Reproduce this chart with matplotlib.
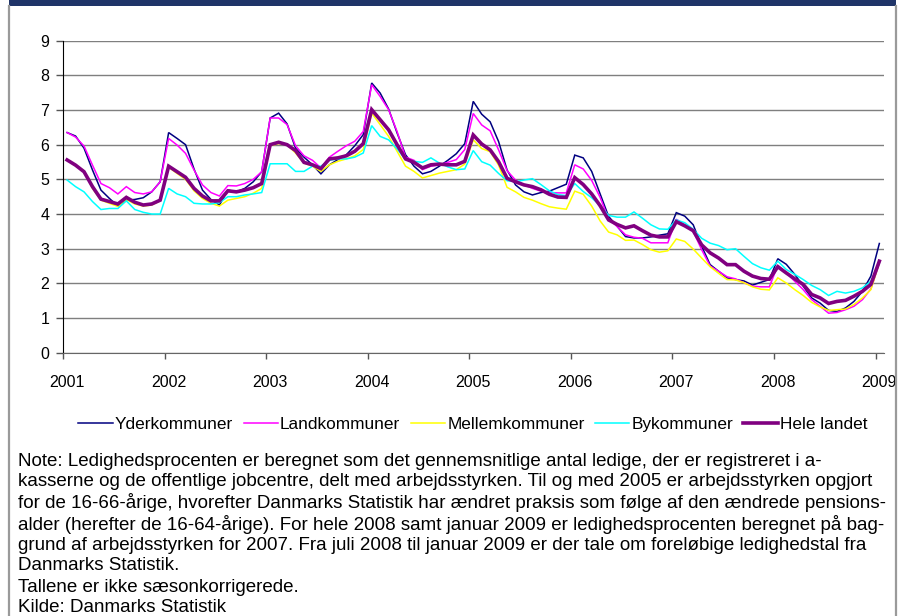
import numpy as np
import matplotlib
matplotlib.use("Agg")
import matplotlib.pyplot as plt

plt.rcParams['font.family'] = ['Liberation Sans', 'DejaVu Sans']

# monthly unemployment rate (%), jan 2001 - jan 2009
years = ['2001', '2002', '2003', '2004', '2005', '2006', '2007', '2008', '2009']

yderkommuner = [
    6.35, 6.25, 5.90, 5.27, 4.69, 4.45, 4.23, 4.40, 4.42, 4.47, 4.64, 4.93,
    6.35, 6.18, 6.00, 5.30, 4.69, 4.42, 4.26, 4.69, 4.64, 4.74, 4.93, 5.22,
    6.77, 6.91, 6.60, 5.90, 5.64, 5.42, 5.16, 5.42, 5.57, 5.71, 5.97, 6.29,
    7.78, 7.49, 7.03, 6.34, 5.71, 5.38, 5.16, 5.23, 5.38, 5.55, 5.74, 6.03,
    7.25, 6.88, 6.66, 6.09, 5.27, 4.84, 4.64, 4.55, 4.62, 4.66, 4.76, 4.86,
    5.70, 5.62, 5.23, 4.58, 3.93, 3.65, 3.35, 3.31, 3.31, 3.34, 3.39, 3.43,
    4.04, 3.94, 3.69, 3.07, 2.54, 2.35, 2.16, 2.11, 2.07, 1.95, 2.03, 2.11,
    2.71, 2.55, 2.26, 1.92, 1.58, 1.43, 1.22, 1.19, 1.29, 1.48, 1.77, 2.21,
    3.15]

landkommuner = [
    6.35, 6.22, 5.96, 5.41, 4.88, 4.76, 4.58, 4.79, 4.62, 4.58, 4.64, 4.93,
    6.18, 5.99, 5.75, 5.27, 4.84, 4.62, 4.52, 4.82, 4.81, 4.88, 5.00, 5.22,
    6.77, 6.77, 6.58, 5.97, 5.68, 5.55, 5.33, 5.64, 5.81, 5.97, 6.10, 6.38,
    7.73, 7.39, 7.01, 6.38, 5.64, 5.55, 5.28, 5.38, 5.42, 5.49, 5.57, 5.86,
    6.90, 6.57, 6.40, 5.85, 5.25, 4.98, 4.84, 4.74, 4.66, 4.62, 4.61, 4.61,
    5.42, 5.30, 4.97, 4.48, 3.86, 3.64, 3.40, 3.33, 3.30, 3.17, 3.17, 3.17,
    3.85, 3.69, 3.50, 2.97, 2.50, 2.35, 2.19, 2.13, 2.02, 1.92, 1.90, 1.90,
    2.52, 2.30, 2.06, 1.82, 1.53, 1.34, 1.14, 1.16, 1.24, 1.34, 1.53, 1.84,
    2.59]

mellemkommuner = [
    5.56, 5.40, 5.25, 4.74, 4.40, 4.31, 4.22, 4.42, 4.29, 4.23, 4.26, 4.38,
    5.35, 5.17, 5.00, 4.67, 4.45, 4.31, 4.23, 4.40, 4.45, 4.50, 4.60, 4.74,
    5.97, 6.03, 6.00, 5.76, 5.47, 5.38, 5.23, 5.42, 5.52, 5.59, 5.68, 5.86,
    6.91, 6.58, 6.24, 5.81, 5.38, 5.23, 5.04, 5.11, 5.18, 5.23, 5.28, 5.44,
    6.14, 5.89, 5.80, 5.41, 4.77, 4.64, 4.48, 4.40, 4.30, 4.21, 4.17, 4.14,
    4.66, 4.57, 4.23, 3.80, 3.48, 3.40, 3.24, 3.25, 3.12, 2.97, 2.90, 2.94,
    3.28, 3.21, 2.99, 2.73, 2.48, 2.29, 2.11, 2.10, 2.02, 1.90, 1.83, 1.81,
    2.16, 2.01, 1.82, 1.65, 1.45, 1.32, 1.22, 1.24, 1.26, 1.39, 1.58, 1.82,
    2.60]

bykommuner = [
    4.98, 4.79, 4.64, 4.36, 4.13, 4.16, 4.16, 4.38, 4.13, 4.05, 4.00, 4.00,
    4.74, 4.58, 4.50, 4.31, 4.29, 4.29, 4.33, 4.50, 4.50, 4.55, 4.58, 4.62,
    5.45, 5.45, 5.45, 5.23, 5.23, 5.38, 5.38, 5.55, 5.59, 5.59, 5.64, 5.76,
    6.55, 6.24, 6.14, 5.88, 5.57, 5.52, 5.49, 5.62, 5.47, 5.36, 5.28, 5.30,
    5.83, 5.51, 5.41, 5.17, 4.96, 4.93, 4.98, 5.02, 4.85, 4.67, 4.56, 4.53,
    4.88, 4.65, 4.47, 4.24, 3.96, 3.91, 3.91, 4.06, 3.88, 3.69, 3.57, 3.56,
    3.83, 3.75, 3.56, 3.30, 3.16, 3.09, 2.97, 3.00, 2.78, 2.57, 2.45, 2.38,
    2.64, 2.40, 2.26, 2.11, 1.94, 1.82, 1.65, 1.77, 1.72, 1.77, 1.87, 2.06,
    2.59]

hele_landet = [
    5.56, 5.41, 5.22, 4.79, 4.43, 4.36, 4.29, 4.48, 4.34, 4.26, 4.29, 4.40,
    5.38, 5.22, 5.06, 4.74, 4.52, 4.38, 4.38, 4.67, 4.64, 4.69, 4.76, 4.88,
    6.00, 6.07, 6.00, 5.83, 5.49, 5.42, 5.31, 5.59, 5.62, 5.68, 5.81, 6.03,
    7.01, 6.72, 6.43, 6.00, 5.59, 5.49, 5.33, 5.42, 5.44, 5.42, 5.42, 5.52,
    6.28, 6.02, 5.85, 5.51, 5.03, 4.93, 4.84, 4.79, 4.70, 4.57, 4.49, 4.48,
    5.05, 4.85, 4.58, 4.24, 3.83, 3.70, 3.60, 3.66, 3.52, 3.39, 3.34, 3.34,
    3.78, 3.66, 3.52, 3.11, 2.88, 2.73, 2.54, 2.54, 2.35, 2.21, 2.14, 2.12,
    2.48, 2.30, 2.13, 1.97, 1.68, 1.58, 1.42, 1.48, 1.51, 1.63, 1.77, 1.97,
    2.64]

series = [
    ('Yderkommuner', yderkommuner, '#000080', 1.1),
    ('Landkommuner', landkommuner, '#FF00FF', 1.1),
    ('Mellemkommuner', mellemkommuner, '#FFFF00', 1.1),
    ('Bykommuner', bykommuner, '#00FFFF', 1.1),
    ('Hele landet', hele_landet, '#800080', 2.6),
]

note_lines = [
    'Note: Ledighedsprocenten er beregnet som det gennemsnitlige antal ledige, der er registreret i a-',
    'kasserne og de offentlige jobcentre, delt med arbejdsstyrken. Til og med 2005 er arbejdsstyrken opgjort',
    'for de 16-66-årige, hvorefter Danmarks Statistik har ændret praksis som følge af den ændrede pensions-',
    'alder (herefter de 16-64-årige). For hele 2008 samt januar 2009 er ledighedsprocenten beregnet på bag-',
    'grund af arbejdsstyrken for 2007. Fra juli 2008 til januar 2009 er der tale om foreløbige ledighedstal fra',
    'Danmarks Statistik.',
    'Tallene er ikke sæsonkorrigerede.',
    'Kilde: Danmarks Statistik',
]

W, H = 898, 616
fig = plt.figure(figsize=(W / 100, H / 100), dpi=100)

# frame + cut-off title bar
fig.add_artist(plt.Rectangle((9 / W, 1 - 6 / H), (896 - 9) / W, 6 / H,
                             transform=fig.transFigure, color='#1F3468', lw=0))
for xb in (9, 896):
    fig.add_artist(plt.Line2D([xb / W, xb / W], [0, 1 - 6 / H], transform=fig.transFigure,
                              color='#9A9A9A', lw=1.6))

ax = fig.add_axes([63.3 / W, 1 - 352.7 / H, (884 - 63.3) / W, (352.7 - 40.7) / H])

x = np.arange(len(hele_landet)) + 0.45
for name, vals, col, lw in series:
    ax.plot(x, vals, color=col, lw=lw, label=name, solid_joinstyle='miter')

ax.set_xlim(0, 97)
ax.set_ylim(0, 9)
ax.set_yticks(range(0, 10))
ax.yaxis.grid(True, color='#7F7F7F', lw=1.0)
ax.set_axisbelow(True)

# tick marks between years, labels at january
year_pos = np.arange(len(years)) * 12
ax.set_xticks(year_pos)
ax.set_xticklabels([])
ax.set_xticks(year_pos + 0.45, minor=True)
ax.set_xticklabels(years, minor=True)
ax.tick_params(axis='x', which='major', length=4, color='#555555', width=1)
ax.tick_params(axis='x', which='minor', length=0, pad=16, labelsize=11.5)
ax.tick_params(axis='y', length=5, width=1, color='#555555', pad=5, labelsize=11.5)

for s in ('top', 'right'):
    ax.spines[s].set_visible(False)
ax.spines['left'].set_color('black')
ax.spines['bottom'].set_color('#666666')

fig.legend(loc='center', bbox_to_anchor=(473 / W, 1 - 424 / H), ncol=5, frameon=False,
           fontsize=12.4, handlelength=2.0, handletextpad=0.12, columnspacing=0.6)

for k, line in enumerate(note_lines):
    fig.text(18 / W, 1 - (461 + 21 * k) / H, line, fontsize=13.5, va='center', ha='left')

fig.savefig('out.png', dpi=100)
